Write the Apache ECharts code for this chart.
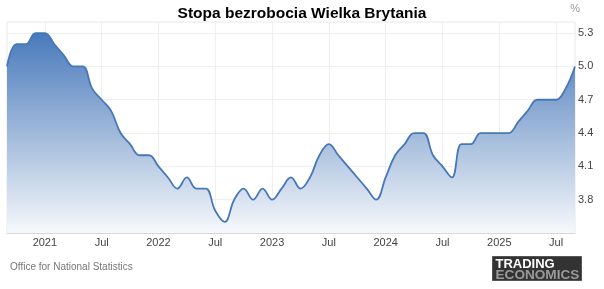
<!DOCTYPE html>
<html>
<head>
<meta charset="utf-8">
<script src="https://cdn.jsdelivr.net/npm/echarts@6/dist/echarts.min.js"></script>
<style>
html,body{margin:0;padding:0;background:#fff;}
#c{width:604px;height:289px;}
</style>
</head>
<body>
<div id="c"></div>
<script>
// Monthly categories Sep 2020 .. Sep 2025
const months = [
 '2020-09','2020-10','2020-11','2020-12',
 '2021-01','2021-02','2021-03','2021-04','2021-05','2021-06','2021-07','2021-08','2021-09','2021-10','2021-11','2021-12',
 '2022-01','2022-02','2022-03','2022-04','2022-05','2022-06','2022-07','2022-08','2022-09','2022-10','2022-11','2022-12',
 '2023-01','2023-02','2023-03','2023-04','2023-05','2023-06','2023-07','2023-08','2023-09','2023-10','2023-11','2023-12',
 '2024-01','2024-02','2024-03','2024-04','2024-05','2024-06','2024-07','2024-08','2024-09','2024-10','2024-11','2024-12',
 '2025-01','2025-02','2025-03','2025-04','2025-05','2025-06','2025-07','2025-08','2025-09'
];
const unemployment = [
 5.0,5.2,5.2,5.3,
 5.3,5.2,5.1,5.0,5.0,4.8,4.7,4.6,4.4,4.3,4.2,4.2,
 4.1,4.0,3.9,4.0,3.9,3.9,3.7,3.6,3.8,3.9,3.8,3.9,
 3.8,3.9,4.0,3.9,4.0,4.2,4.3,4.2,4.1,4.0,3.9,3.8,
 4.0,4.2,4.3,4.4,4.4,4.2,4.1,4.0,4.3,4.3,4.4,4.4,
 4.4,4.4,4.5,4.6,4.7,4.7,4.7,4.8,5.0
];
const yTicks = [3.8, 4.1, 4.4, 4.7, 5.0, 5.3];
const titleText = 'Stopa bezrobocia Wielka Brytania';
const unitText = '%';
const sourceText = 'Office for National Statistics';

const isMark = (idx) => { const m = months[idx].slice(5); return m === '01' || m === '07'; };

const chart = echarts.init(document.getElementById('c'), null, {renderer: 'canvas'});
chart.setOption({
  animation: false,
  title: {
    text: titleText, left: 'center', top: 1,
    textStyle: {fontFamily: 'Liberation Sans, Arial, sans-serif', fontSize: 15.5, fontWeight: 'bold', color: '#000'}
  },
  grid: {left: 7, right: 29, top: 22, bottom: 56, show: true, borderColor: '#e8e8e8', borderWidth: 1},
  xAxis: {
    type: 'category', data: months, boundaryGap: false,
    axisLine: {show: true, lineStyle: {color: '#d8d8d8'}},
    axisTick: {show: false},
    axisLabel: {
      interval: (idx) => isMark(idx), margin: 4,
      fontFamily: 'Liberation Sans, Arial, sans-serif', fontSize: 11, color: '#444',
      formatter: (v) => v.slice(5) === '01' ? v.slice(0, 4) : 'Jul'
    },
    splitLine: {show: true, interval: (idx) => isMark(idx), lineStyle: {color: '#efefef'}}
  },
  yAxis: {
    type: 'value', position: 'right', min: 3.5, max: 5.4,
    axisLine: {show: false},
    axisTick: {show: false, customValues: yTicks},
    axisLabel: {customValues: yTicks, margin: 3, fontFamily: 'Liberation Sans, Arial, sans-serif', fontSize: 11, color: '#444',
      formatter: (v) => v.toFixed(1)},
    splitLine: {show: true, lineStyle: {color: '#efefef'}}
  },
  graphic: [
    {type: 'text', right: 24, top: 3, style: {text: unitText, fill: '#999', font: '11px Liberation Sans, Arial, sans-serif'}},
    {type: 'text', left: 10, top: 262, style: {text: sourceText, fill: '#777', font: '10px Liberation Sans, Arial, sans-serif'}},
    {type: 'group', left: 492, top: 256, children: [
      {type: 'rect', shape: {x: 0, y: 0, width: 89, height: 24}, style: {fill: '#333', stroke: '#555', lineWidth: 1}},
      {type: 'text', x: 3, y: 1, style: {text: 'TRADING', fill: '#fff', font: 'bold 13px Liberation Sans, Arial, sans-serif'}},
      {type: 'text', x: 3, y: 12, style: {text: 'ECONOMICS', fill: '#9a9a9a', font: 'bold 13.6px Liberation Sans, Arial, sans-serif'}}
    ]}
  ],
  series: [{
    type: 'line', data: unemployment, smooth: 0.4, symbol: 'none',
    lineStyle: {color: '#4677b8', width: 1.8},
    areaStyle: {
      opacity: 1,
      color: new echarts.graphic.LinearGradient(0, 0, 0, 1, [
        {offset: 0, color: 'rgb(72,122,188)'},
        {offset: 0.5, color: 'rgb(160,185,218)'},
        {offset: 1, color: 'rgb(246,248,252)'}
      ])
    }
  }]
});
</script>
</body>
</html>
